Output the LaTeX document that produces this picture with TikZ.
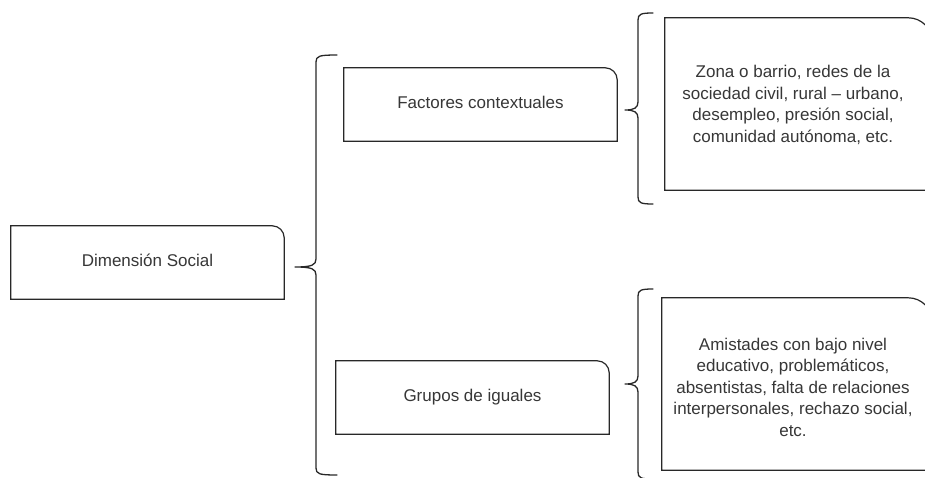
\documentclass[tikz,border=0pt]{standalone}
\usepackage{fontspec}
\setmainfont{Liberation Sans}
\definecolor{ln}{RGB}{40,40,40}
\definecolor{txt}{RGB}{55,55,55}
\newcommand{\lbl}{\fontsize{17pt}{21.5pt}\selectfont}
\newcommand{\oneframe}[2]{%
  \draw[outline] (#1.south west) -- (#1.north west) -- ([xshift=-#2]#1.north east)
    arc[start angle=90,end angle=0,radius=#2] -- (#1.south east) -- cycle;}
\newcommand{\mybrace}[6]{%
  \draw[bracestyle] (#6,#2) .. controls (#1+3,#2) and (#1,#2-1) .. (#1,#2-7)
    -- (#1,#3+8) .. controls (#1,#3+2) and (#1-4,#3) .. (#5,#3)
    .. controls (#1-4,#3) and (#1,#3-2) .. (#1,#3-8)
    -- (#1,#4+7) .. controls (#1,#4+1) and (#1+3,#4) .. (#6,#4);}
\tikzset{
  frame/.style={draw=none, inner sep=0pt, minimum width=273pt, minimum height=73pt,
    text=txt, font=\lbl, text height=12.4pt, text depth=3.6pt},
  bigframe/.style={draw=none, inner sep=0pt, minimum height=172pt},
  para/.style={text=txt, font=\lbl, align=center, inner sep=0pt},
  outline/.style={draw=ln, line width=1.2pt},
  bracestyle/.style={draw=ln, line width=1.3pt, line cap=round, line join=round}
}
\begin{document}
\begin{tikzpicture}[x=1pt,y=1pt]
\useasboundingbox (0,0) rectangle (925,477);
\clip (0,0) rectangle (925,477);
\fill[white] (0,0) rectangle (925,477);
% boxes
\node[frame] (dim) at (147.5,214.5) {Dimensión Social};
\node[frame] (fac) at (480.5,372.5) {Factores contextuales};
\node[frame] (gru) at (472.5,79.5) {Grupos de iguales};
\node[bigframe, minimum width=267pt] (zona) at (798.5,373) {};
\node[bigframe, minimum width=270pt] (amis) at (797,93) {};
\oneframe{dim}{12pt}
\oneframe{fac}{12pt}
\oneframe{gru}{12pt}
\oneframe{zona}{24pt}
\oneframe{amis}{24pt}
% texts of the big boxes
\node[para] (zonaT) at (793,372) {Zona o barrio, redes de la\\sociedad civil, rural – urbano,\\desempleo, presión social,\\comunidad autónoma, etc.};
\node[para] (amisT) at (793,89.7) {Amistades con bajo nivel\\educativo, problemáticos,\\absentistas, falta de relaciones\\interpersonales, rechazo social,\\etc.};
% braces
\mybrace{316}{422}{210}{2}{295}{337}
\mybrace{638}{464}{367}{273}{625}{653}
\mybrace{638}{188}{93}{-2}{625}{653}
\end{tikzpicture}
\end{document}
